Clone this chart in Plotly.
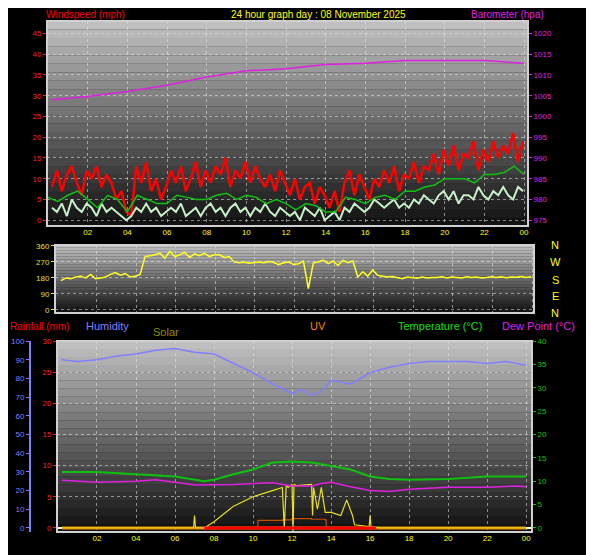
import plotly.graph_objects as go

# ---------------- data ----------------
hours_q = [i * 0.25 + 0.2 for i in range(96)]
wind_gust = [8,12,7,11, 13,9,6,12, 10,13,8,11, 9,5,7,2, 1,13,9,14, 7,10,5,8,
             12,9,13,7, 10,14,8,12, 9,13,11,15, 8,12,10,14, 9,13,10,8, 11,7,12,9,
             6,10,5,8, 9,4,8,6, 3,7,2,9, 12,6,11,8, 5,10,8,12, 9,13,7,11,
             10,14,9,13, 12,16,11,17, 13,18,12,16, 15,19,12,17, 14,19,15,18, 16,21,14,19]
wind_speed = [3,2,4,1, 5,3,2,4, 3,1,4,2, 3,2,1,0, 1,3,2,4, 2,3,1,2,
              3,2,4,1, 2,3,1,3, 4,2,3,1, 3,4,2,3, 1,3,2,4, 2,1,3,2,
              1,2,0,3, 2,1,3,0, 1,2,0,3, 2,4,3,2, 3,5,4,3, 4,5,3,4,
              3,5,4,6, 5,4,6,7, 5,7,4,6, 6,5,8,6, 5,7,6,8, 6,5,8,7]
hours_h = [i * 0.5 for i in range(49)]
wind_avg = [5.5,4.5,6,7,5,3,6,5,2,6,5,4,4,6,5.5,5,5,6,6.5,5,6,5.5,4,5,4,2.5,4,3.5,2,2,
            5.5,5,4,5.5,6,5,7,7,8,8.5,10,10,10,9,11,11,11.5,13,11]
baro_hours = [0.2,2,4,6,8,10,12,14,16,18,20,22,24]
barometer = [1004,1004.8,1006,1007.5,1009.5,1011,1011.5,1012.5,1012.8,1013.5,1013.5,1013.5,1012.8]
wind_dir = [165,180,175,185, 190,180,200,175, 180,185,200,210, 195,205,185,190,
            200,300,305,310, 320,290,330,300, 310,325,295,315, 305,320,300,310,
            310,295,300,270, 265,270,262,268, 270,265,272,268, 255,265,270,255,
            260,275,120,265, 270,280,260,275, 250,280,265,275, 185,215,190,225,
            195,190,185,188, 180,175,185,182, 178,185,180,183, 182,186,180,185,
            184,180,186,182, 185,180,183,187, 182,186,181,185, 184,188,182,186]
hum_hours = [0.2,1,2,3,4,5,6,7,8,9,10,11,12,12.5,13,13.5,14,15,16,17,18,19,20,21,22,23,24]
humidity = [90,89,90,92,93,95,96,94,93,88,83,77,72,74,71,73,79,77,83,86,88,89,89,89,88,89,87]
temp_hours = [0.2,2,4,6,7.5,8,9,10,11,12,13,14,15,16,17,18,20,22,24]
temperature = [12,12,11.5,11,10,10.3,11.5,12.5,14,14.2,14,13.2,12.5,11,10.5,10.3,10.5,11,11]
dew_hours = [0.2,2,4,5,6,7,9,11,12,13,13.5,14,15,16,17,18,20,22,23.5,24]
dewpoint = [10.2,9.8,10,10.3,9.8,9.2,9.3,9.7,9,9,9.5,9.8,8.8,8,7.8,8.3,8.7,8.7,9,8.8]
solar_hours = [0.2,6.95,7,7.05,7.5,8,9,10,11,11.5,11.6,11.7,11.8,12,12.05,12.1,12.2,13,13.05,13.1,13.3,13.5,13.7,14,14.5,14.8,15.1,15.2,15.95,16,16.05,16.5,24]
solar = [0,0,2,0,0,1,3.5,5,6,6.5,0,6.8,6.5,7,-0.5,7,6.8,7,2,6.5,3,6.5,2.5,2.5,2,4.5,2,0.5,0.2,2,0.2,0,0]
uv_hours = [0.2,10.2,10.25,11.5,12,13,13.7,13.75,24]
uv = [0,0,1.2,1.3,1.5,1.4,1.3,0,0]
rain_hours = [0.2,24]
rainfall = [0,0]
time_ticks = [2,4,6,8,10,12,14,16,18,20,22,24]
time_labels = ["02","04","06","08","10","12","14","16","18","20","22","00"]

W, H = 594, 555
OFF = 8  # page offset of the figure in the browser
def px(x): return (x - OFF) / W
def py(y): return 1 - (y - OFF) / H

FONT = "Liberation Sans"
fig = go.Figure()

fig.add_trace(go.Scatter(x=baro_hours, y=barometer, yaxis="y2", xaxis="x", mode="lines",
                         line=dict(color="#e020e0", width=1.5)))
fig.add_trace(go.Scatter(x=hours_q, y=wind_gust, xaxis="x", yaxis="y", mode="lines",
                         line=dict(color="#ff0000", width=2.5)))
fig.add_trace(go.Scatter(x=hours_q, y=wind_speed, xaxis="x", yaxis="y", mode="lines",
                         line=dict(color="#c8f0c8", width=2)))
fig.add_trace(go.Scatter(x=hours_h, y=wind_avg, xaxis="x", yaxis="y", mode="lines",
                         line=dict(color="#10c010", width=1.5)))
fig.add_trace(go.Scatter(x=hours_q, y=wind_dir, xaxis="x2", yaxis="y3", mode="lines",
                         line=dict(color="#ffff20", width=1.5)))
fig.add_trace(go.Scatter(x=hum_hours, y=humidity, xaxis="x3", yaxis="y5", mode="lines",
                         line=dict(color="#8080ff", width=1.5)))
fig.add_trace(go.Scatter(x=temp_hours, y=temperature, xaxis="x3", yaxis="y6", mode="lines",
                         line=dict(color="#10c010", width=2)))
fig.add_trace(go.Scatter(x=dew_hours, y=dewpoint, xaxis="x3", yaxis="y6", mode="lines",
                         line=dict(color="#e020e0", width=1.5)))
fig.add_trace(go.Scatter(x=rain_hours, y=rainfall, xaxis="x3", yaxis="y4", mode="lines",
                         line=dict(color="#ff8c00", width=3)))
fig.add_trace(go.Scatter(x=uv_hours, y=uv, xaxis="x3", yaxis="y4", mode="lines",
                         line=dict(color="#c05000", width=1.2, shape="hv")))
fig.add_trace(go.Scatter(x=solar_hours, y=solar, xaxis="x3", yaxis="y4", mode="lines",
                         line=dict(color="#e8e020", width=1.2)))
fig.add_trace(go.Scatter(x=[7.5, 16.3], y=rainfall, xaxis="x3", yaxis="y4", mode="lines",
                         line=dict(color="#ff0000", width=3)))

tickf = dict(family=FONT, size=8)
grid = dict(showgrid=True, gridcolor="rgba(230,230,230,0.55)", griddash="dot", gridwidth=1,
            zeroline=False, automargin=False)

dom_top_x = [px(47), px(528)]
dom_mid_x = [px(55), px(534)]
dom_bot_x = [px(57), px(532)]

fig.update_layout(
    width=W, height=H, margin=dict(l=0, r=0, t=0, b=0, autoexpand=False),
    paper_bgcolor="black", plot_bgcolor="#202020", showlegend=False,
    font=dict(family=FONT),
    xaxis=dict(domain=dom_top_x, range=[-0.05, 24.2], anchor="y", tickvals=time_ticks, ticktext=time_labels,
               tickfont=dict(tickf, color="#ffff00"), ticks="", **grid),
    yaxis=dict(domain=[py(226), py(21)], range=[-1.4, 48], dtick=5, anchor="x",
               tickfont=dict(tickf, color="#ff2020"), ticks="outside", tickcolor="#ff2020", ticklen=3, **grid),
    yaxis2=dict(overlaying="y", side="right", anchor="x", range=[973.6, 1023], dtick=5, automargin=False,
                tickfont=dict(tickf, color="#e020e0"), ticks="outside", tickcolor="#e020e0", ticklen=3, showgrid=False),
    xaxis2=dict(domain=dom_mid_x, range=[-0.1, 24.1], anchor="y3", showticklabels=False,
                tickvals=time_ticks, **grid),
    yaxis3=dict(domain=[py(313), py(245)], range=[-17, 365], tickvals=[0, 90, 180, 270, 360], anchor="x2",
                tickfont=dict(tickf, color="#e0e020"), ticks="outside", tickcolor="#e0e020", ticklen=3, **grid),
    xaxis3=dict(domain=dom_bot_x, range=[-0.05, 24.3], anchor="y4", tickvals=time_ticks, ticktext=time_labels,
                tickfont=dict(tickf, color="#ffff00"), ticks="", **grid),
    yaxis4=dict(domain=[py(532), py(341)], range=[-0.65, 30], dtick=5, anchor="x3",
                tickfont=dict(tickf, color="#ff2020"), ticks="outside", tickcolor="#ff2020", ticklen=3, **grid),
    yaxis5=dict(overlaying="y4", anchor="free", position=px(30), side="left", range=[-2.2, 100], dtick=10,
                automargin=False,
                tickfont=dict(tickf, color="#8080ff"), ticks="outside", tickcolor="#8080ff", ticklen=3,
                showline=True, linecolor="#8080ff", linewidth=2, showgrid=False),
    yaxis6=dict(overlaying="y4", side="right", anchor="x3", range=[-0.86, 40], dtick=5, automargin=False,
                tickfont=dict(tickf, color="#10c010"), ticks="outside", tickcolor="#10c010", ticklen=3, showgrid=False),
)

shapes = []
N = 24
for xr, yr in [("x", "y"), ("x2", "y3"), ("x3", "y4")]:
    for i in range(N):
        t = i / N
        v = int(15 + (195 - 15) * (t + 0.5 / N))
        shapes.append(dict(type="rect", xref=f"{xr} domain", yref=f"{yr} domain", x0=0, x1=1,
                           y0=t, y1=t + 1 / N, fillcolor=f"rgb({v},{v},{v})", line=dict(width=0), layer="below"))
    shapes.append(dict(type="rect", xref=f"{xr} domain", yref=f"{yr} domain", x0=0, x1=1, y0=0, y1=1,
                       line=dict(color="#d0d0d0", width=2), layer="above"))
fig.update_layout(shapes=shapes)

ann = []
def txt(x, y, s, color, size=11, anchor="left"):
    ann.append(dict(x=px(x), y=py(y), xref="paper", yref="paper", text=s, showarrow=False,
                    xanchor=anchor, yanchor="middle", font=dict(family=FONT, size=size, color=color)))
txt(44, 14, "Windspeed (mph)", "#ff0000", size=10)
txt(318, 14, "24 hour graph day : 08 November 2025", "#ffff00", size=10, anchor="center")
txt(546, 14, "Barometer (hpa)", "#e020e0", size=10, anchor="right")
for s, y in zip(["N", "W", "S", "E", "N"], [245, 262, 280, 296, 313]):
    txt(555, y, s, "#ffff00", anchor="center")
txt(8, 326, "Rainfall (mm)", "#ff0000", size=10)
txt(84, 326, "Humidity", "#8080ff")
txt(151, 332, "Solar", "#909000")
txt(318, 326, "UV", "#ff8000", anchor="center")
txt(396, 326, "Temperature (°C)", "#10e010")
txt(500, 326, "Dew Point (°C)", "#e020e0")
fig.update_layout(annotations=ann)

fig.write_html("out.html")
